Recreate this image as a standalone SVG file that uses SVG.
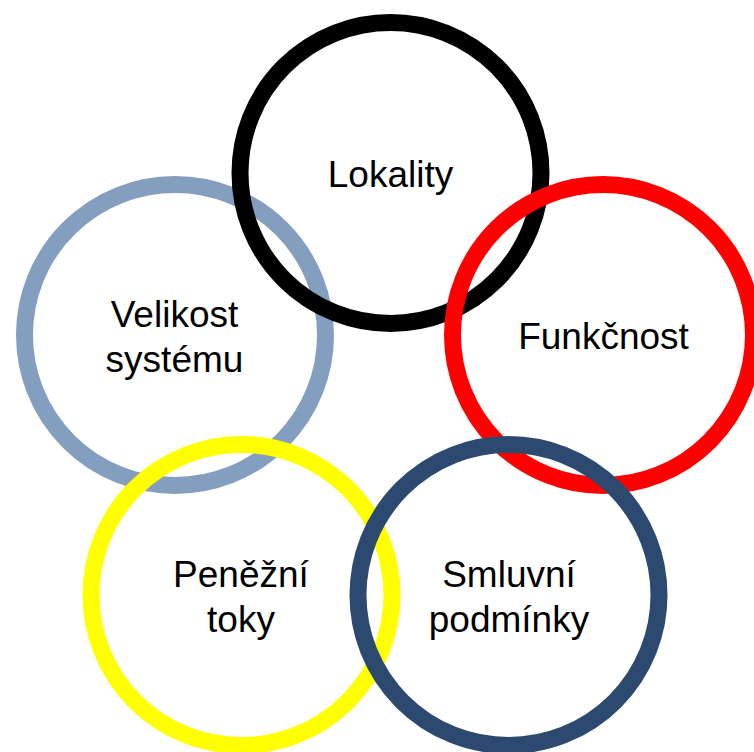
<svg xmlns="http://www.w3.org/2000/svg" width="754" height="752" viewBox="0 0 754 752">
<style>
.ring{fill:none;stroke-width:17}
.lbl{font-family:"Liberation Sans",Arial,sans-serif;font-size:37px;fill:#000;text-anchor:middle}
</style>
<rect width="754" height="752" fill="#fff"/>
<g id="velikost">
<circle class="ring" cx="175" cy="335" r="150.5" stroke="#839EBE"/>
<text class="lbl" x="174.5" y="326.5">Velikost</text>
<text class="lbl" x="174.5" y="371.5">systému</text>
</g>
<g id="lokality">
<circle class="ring" cx="390.5" cy="173" r="150.5" stroke="#000"/>
<text class="lbl" x="390.5" y="186.5">Lokality</text>
</g>
<g id="funkcnost">
<circle class="ring" cx="603" cy="335" r="150.5" stroke="#FF0000"/>
<text class="lbl" x="603.5" y="349">Funkčnost</text>
</g>
<g id="penezni">
<circle class="ring" cx="241.5" cy="595" r="150.5" stroke="#FFFF00"/>
<text class="lbl" x="241" y="586.5">Peněžní</text>
<text class="lbl" x="241" y="631.5">toky</text>
</g>
<g id="smluvni">
<circle class="ring" cx="508.5" cy="595" r="150.5" stroke="#2C4A6F"/>
<text class="lbl" x="509" y="586.5">Smluvní</text>
<text class="lbl" x="509" y="631.5">podmínky</text>
</g>
<g id="connectors"></g>
</svg>
